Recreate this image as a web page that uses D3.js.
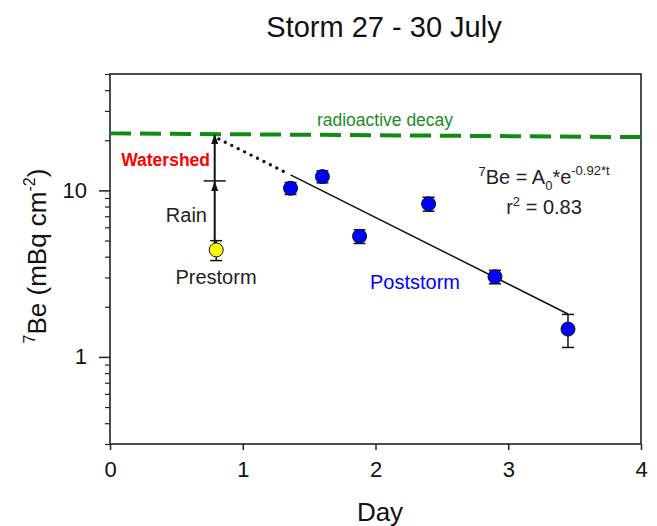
<!DOCTYPE html>
<html>
<head>
<meta charset="utf-8">
<script src="https://cdn.jsdelivr.net/npm/d3@7/dist/d3.min.js"></script>
<style>
  html, body { margin: 0; padding: 0; background: #fff; }
  svg { display: block; font-family: "Liberation Sans", Arial, sans-serif; }
</style>
</head>
<body>
<svg id="chart" width="657" height="526"></svg>
<script>
// Be-7 inventories (mBq cm^-2) through the 27-30 July storm
const prestormDays = [0.8];
const prestormBe7 = [4.39];
const prestormErr = [0.6];

const poststormDays = [1.36, 1.6, 1.88, 2.4, 2.9, 3.45];
const poststormBe7 = [10.3, 12.1, 5.3, 8.3, 3.03, 1.47];
const poststormErr = [0.85, 1.0, 0.5, 0.8, 0.28, 0.33];

// rain input and watershed level at the storm (arrow tops)
const rainLevel = 11.4;
const watershedLevel = 21.8;

// radioactive-decay reference line (end points)
const decayDays = [0, 4];
const decayBe7 = [22.0, 20.9];

// exponential fit 7Be = A0 * e^(-k t)
const fitA0 = 43.3;
const fitK = 0.92;
const fitR2 = 0.83;
const fitDays = [1.36, 3.45];
const extrapDays = [0.82, 1.31];

const xTicks = [0, 1, 2, 3, 4];
const yMajorTicks = [1, 10];
const yMinorTicks = [0.3, 0.4, 0.5, 0.6, 0.7, 0.8, 0.9, 2, 3, 4, 5, 6, 7, 8, 9, 20, 30, 40, 50];

const svg = d3.select("#chart");
const L = 110, R = 641, T = 74, B = 444;

const x = d3.scaleLinear().domain([0, 4]).range([L, R]);
const y = d3.scaleLog().domain([0.3, 50]).range([B, T]);

const axisColor = "#222";
const FONT = "Liberation Sans, Arial, sans-serif";

// Title
svg.append("text")
  .attr("x", 384).attr("y", 37)
  .attr("text-anchor", "middle")
  .attr("font-size", 29).attr("fill", "#111")
  .text("Storm 27 - 30 July");

// Frame
svg.append("rect")
  .attr("x", L).attr("y", T).attr("width", R - L).attr("height", B - T)
  .attr("fill", "none").attr("stroke", axisColor).attr("stroke-width", 1.6);

// X axis
const xAxis = svg.append("g").attr("transform", `translate(0,${B})`)
  .call(d3.axisBottom(x).tickValues(xTicks).tickFormat(d3.format("d")).tickSize(6).tickPadding(11));
xAxis.select(".domain").remove();
xAxis.selectAll("line").attr("stroke", axisColor).attr("stroke-width", 1.5);
xAxis.selectAll("text").attr("font-size", 22).attr("fill", "#111").attr("font-family", FONT);

// Y axis (major)
const yAxis = svg.append("g").attr("transform", `translate(${L},0)`)
  .call(d3.axisLeft(y).tickValues(yMajorTicks).tickFormat(d3.format("d")).tickSize(11).tickPadding(12));
yAxis.select(".domain").remove();
yAxis.selectAll("line").attr("stroke", axisColor).attr("stroke-width", 1.5);
yAxis.selectAll("text").attr("font-size", 22).attr("fill", "#111").attr("font-family", FONT);

// Y axis (minor)
const yMinor = svg.append("g").attr("transform", `translate(${L},0)`)
  .call(d3.axisLeft(y).tickValues(yMinorTicks).tickFormat("").tickSize(5));
yMinor.select(".domain").remove();
yMinor.selectAll("line").attr("stroke", axisColor).attr("stroke-width", 1.2);

// Axis titles
svg.append("text")
  .attr("x", 380).attr("y", 521)
  .attr("text-anchor", "middle").attr("font-size", 26).attr("fill", "#111")
  .text("Day");

const yTitle = svg.append("text")
  .attr("transform", `translate(46,256) rotate(-90)`)
  .attr("text-anchor", "middle").attr("font-size", 26).attr("fill", "#111");
yTitle.append("tspan").attr("font-size", 16).attr("dy", -11).text("7");
yTitle.append("tspan").attr("dy", 11).text("Be (mBq cm");
yTitle.append("tspan").attr("font-size", 16).attr("dy", -11).text("-2");
yTitle.append("tspan").attr("dy", 11).text(")");

// Radioactive decay line
const decayData = decayDays.map((d, i) => ({ day: d, be: decayBe7[i] }));
svg.append("path")
  .datum(decayData)
  .attr("d", d3.line().x(d => x(d.day)).y(d => y(d.be)))
  .attr("fill", "none").attr("stroke", "#138a13").attr("stroke-width", 4)
  .attr("stroke-dasharray", "21,9");

svg.append("text")
  .attr("x", 385).attr("y", 126)
  .attr("text-anchor", "middle").attr("font-size", 17.5).attr("fill", "#1c8c1c")
  .text("radioactive decay");

// Fit line and its dotted extrapolation back to the storm
const fitLine = d3.line().x(d => x(d)).y(d => y(fitA0 * Math.exp(-fitK * d)));
svg.append("path")
  .attr("d", fitLine(fitDays))
  .attr("fill", "none").attr("stroke", "#111").attr("stroke-width", 1.5);
svg.append("path")
  .attr("d", fitLine(extrapDays))
  .attr("fill", "none").attr("stroke", "#111").attr("stroke-width", 3.4)
  .attr("stroke-linecap", "round").attr("stroke-dasharray", "0,7.2");

// Rain / watershed arrows
const ax = x(prestormDays[0]) - 1.5;
function arrowHead(px, py) {
  return `M${px},${py} L${px - 3.5},${py + 10} L${px + 3.5},${py + 10} Z`;
}
svg.append("line")
  .attr("x1", ax).attr("x2", ax)
  .attr("y1", y(prestormBe7[0])).attr("y2", y(watershedLevel) + 2)
  .attr("stroke", "#111").attr("stroke-width", 2);
svg.append("path").attr("d", arrowHead(ax, y(rainLevel))).attr("fill", "#111");
svg.append("path").attr("d", arrowHead(ax, y(watershedLevel))).attr("fill", "#111");
svg.append("line")
  .attr("x1", ax - 11).attr("x2", ax + 11)
  .attr("y1", y(rainLevel)).attr("y2", y(rainLevel))
  .attr("stroke", "#111").attr("stroke-width", 1.5);

// Error bars + points
function drawPoints(days, vals, errs, fill) {
  const data = days.map((d, i) => ({ day: d, be: vals[i], err: errs[i] }));
  const g = svg.append("g");
  const eb = g.selectAll("g.eb").data(data).join("g");
  eb.append("line")
    .attr("x1", d => x(d.day)).attr("x2", d => x(d.day))
    .attr("y1", d => y(d.be + d.err)).attr("y2", d => y(d.be - d.err))
    .attr("stroke", "#111").attr("stroke-width", 1.5);
  [1, -1].forEach(s => {
    eb.append("line")
      .attr("x1", d => x(d.day) - 6).attr("x2", d => x(d.day) + 6)
      .attr("y1", d => y(d.be + s * d.err)).attr("y2", d => y(d.be + s * d.err))
      .attr("stroke", "#111").attr("stroke-width", 1.5);
  });
  g.selectAll("circle").data(data).join("circle")
    .attr("cx", d => x(d.day)).attr("cy", d => y(d.be)).attr("r", 7)
    .attr("fill", fill).attr("stroke", "#111").attr("stroke-width", 1);
}
drawPoints(poststormDays, poststormBe7, poststormErr, "#0000ff");
drawPoints(prestormDays, prestormBe7, prestormErr, "#ffff00");

// Annotations
svg.append("text")
  .attr("x", 210).attr("y", 166).attr("text-anchor", "end")
  .attr("font-size", 17.5).attr("font-weight", "bold").attr("fill", "#ff0000")
  .text("Watershed");
svg.append("text")
  .attr("x", 207).attr("y", 222).attr("text-anchor", "end")
  .attr("font-size", 20).attr("fill", "#222")
  .text("Rain");
svg.append("text")
  .attr("x", 216).attr("y", 284).attr("text-anchor", "middle")
  .attr("font-size", 20).attr("fill", "#222")
  .text("Prestorm");
svg.append("text")
  .attr("x", 415).attr("y", 289).attr("text-anchor", "middle")
  .attr("font-size", 20).attr("fill", "#0000ff")
  .text("Poststorm");

// Fit equation
const eq = svg.append("text")
  .attr("x", 544).attr("y", 184).attr("text-anchor", "middle")
  .attr("font-size", 20).attr("fill", "#222");
eq.append("tspan").attr("font-size", 13).attr("dy", -8).text("7");
eq.append("tspan").attr("dy", 8).text("Be = A");
eq.append("tspan").attr("font-size", 13).attr("dy", 6).text("0");
eq.append("tspan").attr("dy", -6).text("*e");
eq.append("tspan").attr("font-size", 13).attr("dy", -9).text(`-${fitK.toFixed(2)}*t`);

const r2 = svg.append("text")
  .attr("x", 544).attr("y", 214).attr("text-anchor", "middle")
  .attr("font-size", 20).attr("fill", "#222");
r2.append("tspan").text("r");
r2.append("tspan").attr("font-size", 13).attr("dy", -8).text("2");
r2.append("tspan").attr("dy", 8).text(` = ${fitR2.toFixed(2)}`);
</script>
</body>
</html>
